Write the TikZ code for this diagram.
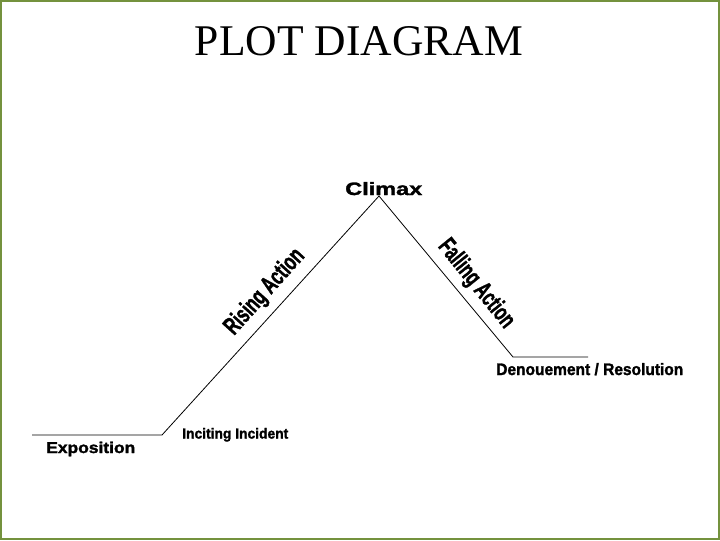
\documentclass[tikz,border=0pt]{standalone}
\usepackage{fontspec}
\setmainfont{Liberation Serif}
\newfontfamily\lsans[BoldFeatures={FakeBold=1.6}]{Liberation Sans}
\usepackage{graphicx}
\definecolor{frame}{RGB}{116,146,62}
\begin{document}
\begin{tikzpicture}[x=0.75pt,y=-0.75pt,
  lab/.style={inner sep=0pt, font=\lsans\bfseries},
  plotline/.style={line width=0.6pt, black}]
\useasboundingbox (0,0) rectangle (720,540);
\fill[white] (0,0) rectangle (720,540);
\draw[frame, line width=1.5pt] (1,1) rectangle (719,539);
% title
\node[inner sep=0pt, anchor=base] (title) at (359,55) {\resizebox{246pt}{21.75pt}{PLOT DIAGRAM}};
% plot line
\coordinate (e0) at (32,435);
\coordinate (ii) at (162,435);
\coordinate (cl) at (379,196);
\coordinate (dr) at (513,357);
\coordinate (d1) at (588,357);
\draw[plotline] (e0) -- (ii) -- (cl) -- (dr) -- (d1);
% labels
\node[lab, anchor=base west] (climax) at (345,195) {\resizebox{57.75pt}{9.75pt}{Climax}};
\node[lab, anchor=base west] (expo) at (46,453) {\resizebox{66.75pt}{8.5pt}{Exposition}};
\node[lab, anchor=base west] (inc) at (182,438.5) {\resizebox{79.5pt}{7.9pt}{Inciting Incident}};
\node[lab, anchor=base west] (den) at (496,375) {\resizebox{140.25pt}{9pt}{Denouement / Resolution}};
\node[lab, rotate=48] (rise) at (265,292) {\resizebox{80pt}{13.5pt}{Rising Action}};
\node[lab, rotate=-51] (fall) at (476,284) {\resizebox{80pt}{13.5pt}{Falling Action}};
\end{tikzpicture}
\end{document}
